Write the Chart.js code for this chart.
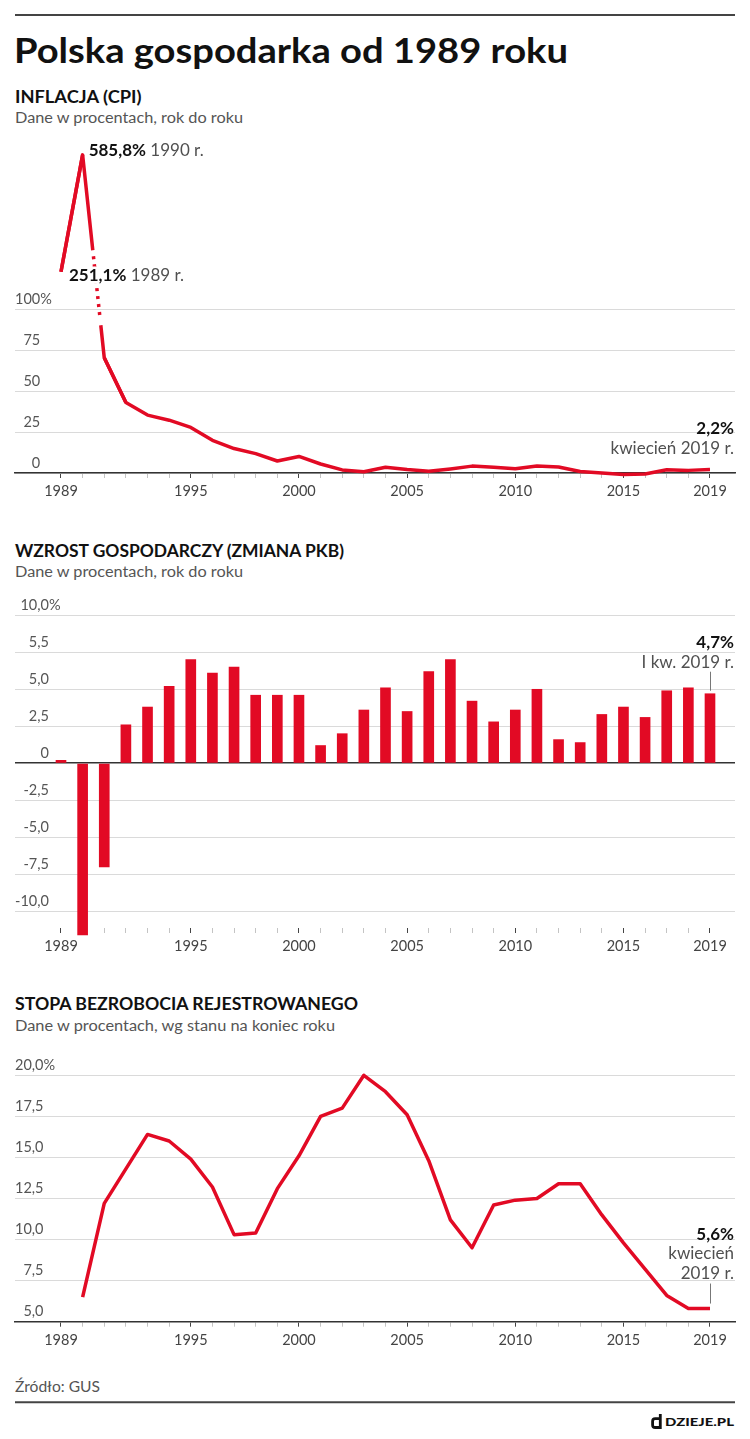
<!DOCTYPE html>
<html><head><meta charset="utf-8">
<script src="https://cdn.jsdelivr.net/npm/chart.js@4.4.1/dist/chart.umd.min.js"></script>
<style>
html,body{margin:0;padding:0;background:#fff;}
body{width:750px;height:1439px;position:relative;overflow:hidden;font-family:Lato,sans-serif;}
canvas{position:absolute;left:0;}
svg{position:absolute;left:0;top:0;}
</style></head><body>
<svg width="750" height="1439" font-family="Lato, sans-serif">
  <line x1="15" y1="15" x2="735" y2="15" stroke="#444" stroke-width="2"/>
  <text x="14" y="63.3" font-size="34.5" font-weight="700" fill="#111" textLength="554" lengthAdjust="spacingAndGlyphs">Polska gospodarka od 1989 roku</text>
  <text x="15" y="102.7" font-size="16.5" font-weight="700" fill="#111" textLength="126.5" lengthAdjust="spacingAndGlyphs">INFLACJA (CPI)</text>
  <text x="15" y="123.3" font-size="15.5" fill="#555" textLength="228" lengthAdjust="spacingAndGlyphs">Dane w procentach, rok do roku</text>
  <text x="15" y="556.7" font-size="16.5" font-weight="700" fill="#111" textLength="329" lengthAdjust="spacingAndGlyphs">WZROST GOSPODARCZY (ZMIANA PKB)</text>
  <text x="15" y="577" font-size="15.5" fill="#555" textLength="228" lengthAdjust="spacingAndGlyphs">Dane w procentach, rok do roku</text>
  <text x="15" y="1010" font-size="16.5" font-weight="700" fill="#111" textLength="343" lengthAdjust="spacingAndGlyphs">STOPA BEZROBOCIA REJESTROWANEGO</text>
  <text x="15" y="1030.7" font-size="15.5" fill="#555" textLength="320" lengthAdjust="spacingAndGlyphs">Dane w procentach, wg stanu na koniec roku</text>
  <text x="15" y="1391.7" font-size="15.5" fill="#555" textLength="85" lengthAdjust="spacingAndGlyphs">Źródło: GUS</text>
  <line x1="15" y1="1402.3" x2="735" y2="1402.3" stroke="#444" stroke-width="2"/>
  <path d="M660.3 1414 V1427.5 H655.2 Q652.6 1427.5 652.6 1424.9 V1421.3 Q652.6 1418.7 655.2 1418.7 H659" fill="none" stroke="#111" stroke-width="2.8"/>
  <text x="665" y="1425.7" font-size="11.5" font-weight="900" fill="#111" textLength="69" lengthAdjust="spacingAndGlyphs">DZIEJE.PL</text>
</svg>
<canvas id="cInf" width="750" height="380" style="top:130px"></canvas>
<canvas id="cGdp" width="750" height="370" style="top:590px"></canvas>
<canvas id="cUne" width="750" height="320" style="top:1045px"></canvas>
<script>
// ---------- DATA ----------
const years = [1989,1990,1991,1992,1993,1994,1995,1996,1997,1998,1999,2000,2001,2002,2003,2004,2005,2006,2007,2008,2009,2010,2011,2012,2013,2014,2015,2016,2017,2018,2019];
const majorYears = [1989,1995,2000,2005,2010,2015,2019];
const inflation = [251.1,585.8,70.3,43.0,35.3,32.2,27.8,19.9,14.9,11.8,7.3,10.1,5.5,1.9,0.8,3.5,2.1,1.0,2.5,4.2,3.5,2.6,4.3,3.7,0.9,0.0,-0.9,-0.6,2.0,1.6,2.2];
const gdp = [0.2,-11.6,-7.0,2.6,3.8,5.2,7.0,6.1,6.5,4.6,4.6,4.6,1.2,2.0,3.6,5.1,3.5,6.2,7.0,4.2,2.8,3.6,5.0,1.6,1.4,3.3,3.8,3.1,4.9,5.1,4.7];
const unemployment = [null,6.5,12.2,14.3,16.4,16.0,14.9,13.2,10.3,10.4,13.1,15.1,17.5,18.0,20.0,19.0,17.6,14.8,11.2,9.5,12.1,12.4,12.5,13.4,13.4,11.5,9.8,8.2,6.6,5.8,5.8];
const inflTicks = [0,25,50,75,100];
const inflTickLabels = ['0','25','50','75','100%'];
const gdpTicks = [-10,-7.5,-5,-2.5,0,2.5,5,7.5,10];
const gdpTickLabels = ['-10,0','-7,5','-5,0','-2,5','0','2,5','5,0','5,5','10,0%'];
const uneTicks = [5,7.5,10,12.5,15,17.5,20];
const uneTickLabels = ['5,0','7,5','10,0','12,5','15,0','17,5','20,0%'];

// ---------- STYLE ----------
const RED = '#e20a24';
const X_MIN = 1986.874, X_MAX = 2020.156;
// axis break of the inflation scale: [value, scale position]
const inflBreaks = [[0,0],[100,100],[250,122.5],[600,197]];
const DOT_BREAK = [0.47, 0.50, 0.81, 0.84];
const NOTE_SIZE = 17;

Chart.defaults.font.family = 'Lato, sans-serif';
Chart.defaults.animation = false;

function toVirtual(v){
  if (v === null || v === undefined) return v;
  const b = inflBreaks;
  if (v <= b[1][0]) return v;
  for (let i = 1; i < b.length - 1; i++) {
    if (v <= b[i+1][0] || i === b.length - 2) {
      return b[i][1] + (v - b[i][0]) * (b[i+1][1] - b[i][1]) / (b[i+1][0] - b[i][0]);
    }
  }
}
function fromVirtual(p){
  const b = inflBreaks;
  if (p <= b[1][1]) return p;
  for (let i = 1; i < b.length - 1; i++) {
    if (p <= b[i+1][1] || i === b.length - 2) {
      return b[i][0] + (p - b[i][1]) * (b[i+1][0] - b[i][0]) / (b[i+1][1] - b[i][1]);
    }
  }
}
class BrokenLinearScale extends Chart.LinearScale {
  static id = 'brokenLinear';
  getPixelForValue(v){ return super.getPixelForValue(toVirtual(v)); }
  getValueForPixel(p){ return fromVirtual(super.getValueForPixel(p)); }
}
Chart.register(BrokenLinearScale);

function xScale(border){
  return {
    type:'linear', min:X_MIN, max:X_MAX, offset:false,
    afterBuildTicks: s => { s.ticks = years.map(v => ({value:v})); },
    afterFit: s => { s.height = 30; },
    border: border ? {display:true, color:'#333', width:1.6} : {display:false},
    grid: { drawOnChartArea:false, drawTicks:true, tickLength:5, offset:false, tickWidth:1,
            tickColor: c => (c.tick && majorYears.includes(c.tick.value)) ? '#444' : '#c4c4c4' },
    ticks: { autoSkip:false, maxRotation:0, minRotation:0, padding:5, color:'#444', font:{size:14.5},
             callback: v => majorYears.includes(v) ? String(v) : '' }
  };
}
function yScale(type, min, max, ticks, labels, zeroDark){
  return {
    type, min, max, position:'left',
    afterBuildTicks: s => { s.ticks = ticks.map(v => ({value:v})); },
    afterFit: s => { s.width = 0; },
    border: {display:false},
    grid: { drawTicks:false,
            color: c => (zeroDark && c.tick && c.tick.value === 0) ? '#333' : '#dadada',
            lineWidth: c => (zeroDark && c.tick && c.tick.value === 0) ? 1.6 : 1 },
    ticks: { mirror:true, crossAlign:'far', padding:0, labelOffset:-10, color:'#555', font:{size:14.5},
             callback: (v, i) => labels[i].replace('%','') }
  };
}
function pctPlugin(ticks, labels){
  return { id:'pct', afterDraw(chart){
    const s = chart.scales.y, ctx = chart.ctx;
    ctx.save();
    ctx.font = '14.5px Lato, sans-serif';
    let widest = 0;
    s.ticks.forEach(t => { widest = Math.max(widest, ctx.measureText(t.label).width); });
    ctx.fillStyle = '#555'; ctx.textAlign = 'left'; ctx.textBaseline = 'middle';
    labels.forEach((l, i) => {
      if (l.endsWith('%')) ctx.fillText('%', s.right + widest, s.getPixelForValue(ticks[i]) - 10);
    });
    ctx.restore();
  }};
}
function notesPlugin(items){
  return { id:'notes', afterDatasetsDraw(chart){
    const ctx = chart.ctx, pts = chart.getDatasetMeta(0).data;
    ctx.save();
    items.forEach(it => {
      const el = pts[it.index];
      it.lines.forEach((line, li) => {
        const y = el.y + it.dy + li * (it.lh || 0);
        const parts = line.map(([t, b]) => {
          ctx.font = (b ? 'bold ' : '') + NOTE_SIZE + 'px Lato, sans-serif';
          return {t, b, w: ctx.measureText(t).width};
        });
        const total = parts.reduce((a, p) => a + p.w, 0);
        let x = it.right ? chart.chartArea.right - 1 - total : el.x + it.dx;
        ctx.textAlign = 'left'; ctx.textBaseline = 'middle';
        parts.forEach(p => {
          ctx.font = (p.b ? 'bold ' : '') + NOTE_SIZE + 'px Lato, sans-serif';
          if (it.halo) {
            ctx.strokeStyle = '#fff'; ctx.lineWidth = 5; ctx.lineJoin = 'round';
            ctx.strokeText(p.t, x, y);
          }
          ctx.fillStyle = p.b ? '#111' : '#505050';
          ctx.fillText(p.t, x, y);
          x += p.w;
        });
      });
      if (it.leader) {
        ctx.strokeStyle = '#777'; ctx.lineWidth = 1;
        ctx.beginPath();
        ctx.moveTo(Math.round(el.x) + 0.5, el.y + it.leader[0]);
        ctx.lineTo(Math.round(el.x) + 0.5, el.y + it.leader[1]);
        ctx.stroke();
      }
    });
    ctx.restore();
  }};
}
const breakLinePlugin = { id:'breakLine', afterDatasetsDraw(chart){
  const pts = chart.getDatasetMeta(0).data, ctx = chart.ctx;
  const p0 = pts[0], p1 = pts[1], p2 = pts[2], p3 = pts[3];
  const at = t => ({x: p1.x + (p2.x - p1.x) * t, y: p1.y + (p2.y - p1.y) * t});
  const a = at(DOT_BREAK[0]), b = at(DOT_BREAK[1]), c = at(DOT_BREAK[2]), d = at(DOT_BREAK[3]);
  ctx.save();
  ctx.strokeStyle = RED; ctx.lineWidth = 3.5; ctx.lineJoin = 'round'; ctx.lineCap = 'butt';
  ctx.beginPath(); ctx.moveTo(p0.x, p0.y); ctx.lineTo(p1.x, p1.y); ctx.lineTo(a.x, a.y); ctx.stroke();
  ctx.setLineDash([3, 5]);
  ctx.beginPath(); ctx.moveTo(b.x, b.y); ctx.lineTo(c.x, c.y); ctx.stroke();
  ctx.setLineDash([]);
  ctx.beginPath(); ctx.moveTo(d.x, d.y); ctx.lineTo(p2.x, p2.y); ctx.lineTo(p3.x, p3.y); ctx.stroke();
  ctx.restore();
}};

const common = {
  responsive:false, animation:false, events:[],
  plugins:{ legend:{display:false}, tooltip:{enabled:false} }
};
const pairs = arr => years.map((y, i) => ({x:y, y:arr[i]}));

// ---------- INFLATION ----------
new Chart(document.getElementById('cInf'), {
  type:'line',
  data:{ datasets:[{
    data: pairs(inflation), borderColor:RED, borderWidth:3.5, pointRadius:0, tension:0,
    borderJoinStyle:'round', clip:false,
    segment:{ borderColor: c => c.p0DataIndex === 1 ? 'rgba(0,0,0,0)' : undefined }
  }]},
  options:Object.assign({}, common, {
    layout:{ padding:{left:15, right:15, top:15, bottom:7} },
    scales:{ x:xScale(true), y:yScale('brokenLinear', 0, 200, inflTicks, inflTickLabels, false) }
  }),
  plugins:[breakLinePlugin, pctPlugin(inflTicks, inflTickLabels), notesPlugin([
    {index:1, dx:6, dy:-4, halo:true, lines:[[['585,8%',true],[' 1990 r.',false]]]},
    {index:0, dx:8, dy:3.5, halo:true, lines:[[['251,1%',true],[' 1989 r.',false]]]},
    {index:30, right:true, dy:-40.5, lh:19.5, lines:[[['2,2%',true]],[['kwiecień 2019 r.',false]]]}
  ])]
});

// ---------- GDP ----------
new Chart(document.getElementById('cGdp'), {
  type:'bar',
  data:{ datasets:[{ data: pairs(gdp), backgroundColor:RED, borderWidth:0, barThickness:10, clip:false }]},
  options:Object.assign({}, common, {
    layout:{ padding:{left:15, right:15, top:25.3, bottom:2} },
    scales:{ x:xScale(false), y:yScale('linear', -11.13, 10, gdpTicks, gdpTickLabels, true) }
  }),
  plugins:[pctPlugin(gdpTicks, gdpTickLabels), notesPlugin([
    {index:30, right:true, dy:-51, lh:20, lines:[[['4,7%',true]],[['I kw. 2019 r.',false]]], leader:[-22,-3]}
  ])]
});

// ---------- UNEMPLOYMENT ----------
new Chart(document.getElementById('cUne'), {
  type:'line',
  data:{ datasets:[{ data: pairs(unemployment), borderColor:RED, borderWidth:3.5, pointRadius:0, tension:0,
    borderJoinStyle:'round', clip:false }]},
  options:Object.assign({}, common, {
    layout:{ padding:{left:15, right:15, top:30.3, bottom:13.3} },
    scales:{ x:xScale(true), y:yScale('linear', 5, 20, uneTicks, uneTickLabels, false) }
  }),
  plugins:[pctPlugin(uneTicks, uneTickLabels), notesPlugin([
    {index:30, right:true, dy:-74.5, lh:19.5, lines:[[['5,6%',true]],[['kwiecień',false]],[['2019 r.',false]]], leader:[-25,-5]}
  ])]
});
</script>
</body></html>
